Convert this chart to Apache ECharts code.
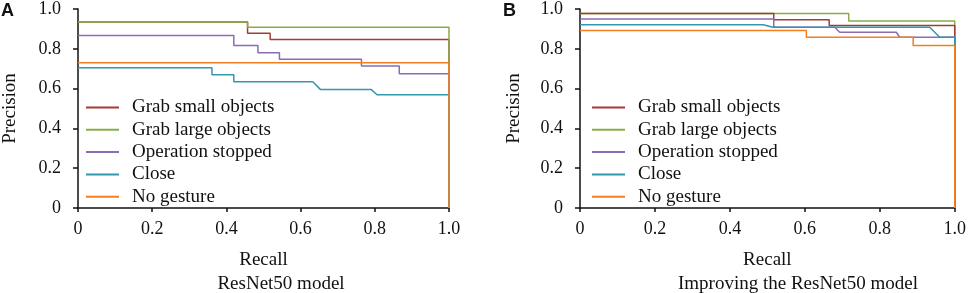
<!DOCTYPE html>
<html>
<head>
<meta charset="utf-8">
<script src="https://cdn.jsdelivr.net/npm/echarts@6/dist/echarts.min.js"></script>
<style>
  html, body { margin: 0; padding: 0; background: #fff; }
  #chart { width: 969px; height: 293px; }
</style>
</head>
<body>
<div id="chart"></div>
<script>
// class names, same in both panels
const classNames = ['Grab small objects', 'Grab large objects', 'Operation stopped', 'Close', 'No gesture'];
const classColors = ['#a33c33', '#86ad4a', '#8a6bb5', '#3596b0', '#f47f20'];

// panel A: ResNet50 model, [recall, precision]
const aGrabSmall = [[0, 0.935], [0.457, 0.935], [0.457, 0.878], [0.518, 0.878], [0.518, 0.847], [1, 0.847], [1, 0]];
const aGrabLarge = [[0, 0.935], [0.457, 0.935], [0.457, 0.908], [1, 0.908], [1, 0]];
const aStopped = [[0, 0.867], [0.42, 0.867], [0.42, 0.817], [0.485, 0.817], [0.485, 0.78], [0.543, 0.78], [0.543, 0.748],
    [0.764, 0.748], [0.764, 0.713], [0.866, 0.713], [0.866, 0.675], [1, 0.675], [1, 0]];
const aClose = [[0, 0.705], [0.361, 0.705], [0.361, 0.67], [0.42, 0.67], [0.42, 0.634], [0.633, 0.634], [0.653, 0.596],
    [0.79, 0.596], [0.806, 0.569], [1, 0.569], [1, 0]];
const aNoGesture = [[0, 0.73], [1, 0.73], [1, 0]];

// panel B: improved ResNet50 model
const bGrabSmall = [[0, 0.978], [0.517, 0.978], [0.517, 0.946], [0.665, 0.946], [0.665, 0.917], [1, 0.917], [1, 0]];
const bGrabLarge = [[0, 0.978], [0.717, 0.978], [0.717, 0.94], [1, 0.94], [1, 0]];
const bStopped = [[0, 0.95], [0.517, 0.95], [0.517, 0.908], [0.68, 0.908], [0.693, 0.883], [0.844, 0.883], [0.853, 0.858],
    [1, 0.858], [1, 0]];
const bClose = [[0, 0.921], [0.489, 0.921], [0.515, 0.908], [0.933, 0.908], [0.96, 0.858], [1, 0.858], [1, 0]];
const bNoGesture = [[0, 0.892], [0.604, 0.892], [0.604, 0.858], [0.889, 0.858], [0.889, 0.817], [1, 0.817], [1, 0]];

const serif = 'Liberation Serif';
const fmt = v => (v === 0 ? '0' : v.toFixed(1));

function valueAxis(grid, isX, gap, name) {
    return {
        type: 'value',
        gridIndex: grid,
        min: 0,
        max: 1,
        interval: 0.2,
        name: name,
        nameLocation: 'middle',
        nameGap: gap,
        nameTextStyle: { fontFamily: serif, fontSize: 19, color: '#111' },
        axisLine: { show: true, lineStyle: { color: '#111', width: 1.5 } },
        axisTick: { show: true, length: isX ? 4 : 5, lineStyle: { color: '#111', width: 1.5 } },
        axisLabel: { fontFamily: serif, fontSize: 18, color: '#111', margin: isX ? 12 : 17, formatter: fmt },
        splitLine: { show: false }
    };
}

function lineSeries(name, data, idx, z) {
    const color = classColors[classNames.indexOf(name)];
    return {
        name: name,
        type: 'line',
        xAxisIndex: idx,
        yAxisIndex: idx,
        data: data,
        symbol: 'none',
        z: z,
        animation: false,
        itemStyle: { color: color },
        lineStyle: { color: color, width: 1.5 }
    };
}

function legendAt(left) {
    return {
        orient: 'vertical',
        left: left,
        top: 98,
        padding: 0,
        icon: 'rect',
        itemWidth: 33,
        itemHeight: 2,
        itemGap: 3.3,
        data: classNames,
        textStyle: { fontFamily: serif, fontSize: 19, color: '#111', lineHeight: 19, padding: [0, 0, 0, 8] }
    };
}

const myEcharts = echarts.init(document.getElementById('chart'));
const option = {
    backgroundColor: '#fff',
    grid: [
        { left: 75, right: 520, top: 6.5, bottom: 85 },
        { left: 580, right: 14, top: 6.5, bottom: 85 }
    ],
    xAxis: [valueAxis(0, true, 43, 'Recall'), valueAxis(1, true, 43, 'Recall')],
    yAxis: [valueAxis(0, false, 58, 'Precision'), valueAxis(1, false, 56, 'Precision')],
    legend: [legendAt(86), legendAt(592)],
    title: [
        { text: 'ResNet50 model', left: 276, top: 270, textAlign: 'center',
            textStyle: { fontFamily: serif, fontSize: 19, fontWeight: 'normal', color: '#111' } },
        { text: 'Improving the ResNet50 model', left: 793, top: 270, textAlign: 'center',
            textStyle: { fontFamily: serif, fontSize: 19, fontWeight: 'normal', color: '#111' } },
        { text: 'A', left: 1, top: 2, padding: 0,
            textStyle: { fontFamily: 'Liberation Sans', fontSize: 18, fontWeight: 'bold', color: '#111' } },
        { text: 'B', left: 503, top: 2, padding: 0,
            textStyle: { fontFamily: 'Liberation Sans', fontSize: 18, fontWeight: 'bold', color: '#111' } }
    ],
    series: [
        lineSeries('Grab small objects', aGrabSmall, 0, 2),
        lineSeries('Grab large objects', aGrabLarge, 0, 3),
        lineSeries('Operation stopped', aStopped, 0, 4),
        lineSeries('Close', aClose, 0, 5),
        lineSeries('No gesture', aNoGesture, 0, 6),
        lineSeries('Grab large objects', bGrabLarge, 1, 2),
        lineSeries('Grab small objects', bGrabSmall, 1, 3),
        lineSeries('Operation stopped', bStopped, 1, 4),
        lineSeries('Close', bClose, 1, 5),
        lineSeries('No gesture', bNoGesture, 1, 6)
    ]
};
myEcharts.setOption(option);
</script>
</body>
</html>
